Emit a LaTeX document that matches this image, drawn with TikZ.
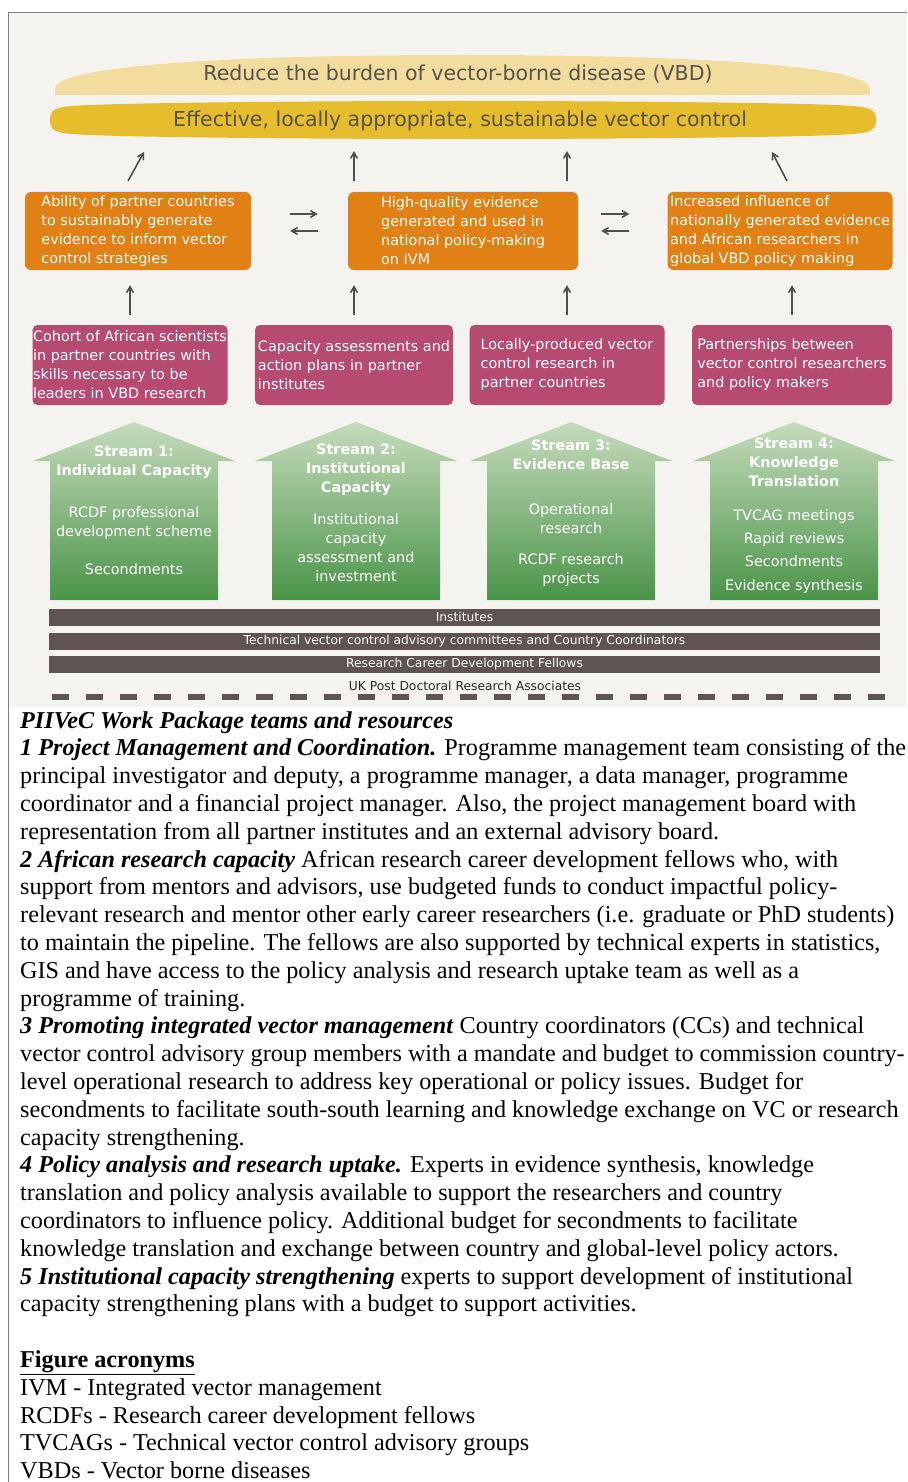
\documentclass[tikz,border=0pt]{standalone}
\usepackage{fontspec}
\setmainfont{Liberation Serif}
\newfontfamily\verd{DejaVu Sans}
\usepackage{tikz}
\usetikzlibrary{arrows,%
                shapes,positioning}

\definecolor{panelc}{RGB}{245,243,240}
\definecolor{goalc}{RGB}{242,221,158}
\definecolor{vcc}{RGB}{230,189,45}
\definecolor{bandtext}{RGB}{88,82,76}
\definecolor{outc}{RGB}{225,128,20}
\definecolor{prodc}{RGB}{182,74,112}
\definecolor{greentop}{RGB}{198,219,189}
\definecolor{greenbot}{RGB}{74,148,72}
\definecolor{layerc}{RGB}{94,84,83}
\definecolor{arrowc}{RGB}{82,78,78}

\begin{document}
\begin{tikzpicture}[x=1pt,y=-1pt,>=angle 60,
  outcome/.style={fill=outc,text=white,rounded corners=6pt,align=left,
    minimum height=78pt,inner sep=0pt,font=\verd\fontsize{14.4}{19}\selectfont},
  product/.style={fill=prodc,text=white,rounded corners=5pt,align=left,
    minimum height=80pt,inner sep=0pt,font=\verd\fontsize{14.4}{19}\selectfont},
  streamtxt/.style={text=white,align=center,inner sep=0pt,
    font=\verd\fontsize{14.4}{19}\selectfont},
  layer/.style={fill=layerc,text=white,minimum width=831pt,minimum height=17pt,
    inner sep=0pt,font=\verd\fontsize{12.3}{13}\selectfont},
  band/.style={text=bandtext,font=\verd\fontsize{20.5}{24}\selectfont},
  flow/.style={->,draw=arrowc,line width=1.6pt},
  noteline/.style={anchor=base west,inner sep=0pt,font=\fontsize{24.2}{27.8}\selectfont}]
\useasboundingbox (0,0) rectangle (907,1482);
\fill[white] (0,0) rectangle (907,1482);
\fill[panelc] (8,12) rectangle (907,707);
\draw[gray,line width=0.8pt] (8,1482) -- (8,12) -- (907,12);

% goal bands
\fill[goalc] (55,95) -- (55,88) .. controls (58,68) and (200,55) .. (462,55)
  .. controls (724,55) and (867,68) .. (870,88) -- (870,95) -- cycle;
\fill[vcc] (50,120) .. controls (50,106) and (56,106) .. (120,104)
  .. controls (300,100) and (624,100) .. (805,104)
  .. controls (869,106) and (876,106) .. (876,120)
  .. controls (876,134) and (869,134) .. (805,136)
  .. controls (624,140) and (300,140) .. (120,136)
  .. controls (56,134) and (50,134) .. (50,120) -- cycle;
\node[band] (goal) at (458,74) {Reduce the burden of vector-borne disease (VBD)};
\node[band] (vc) at (460,121) {Effective, locally appropriate, sustainable vector control};
\coordinate (vcbase) at (462,138);

% outcomes
\node[outcome,minimum width=226pt] (ability) at (138,231)
  {Ability of partner countries\\to sustainably generate\\evidence to inform vector\\control strategies};
\node[outcome,minimum width=230pt] (quality) at (463,231)
  {High-quality evidence\\generated and used in\\national policy-making\\on IVM};
\node[outcome,minimum width=225pt] (influence) at (780,231)
  {Increased influence of\\nationally generated evidence\\and African researchers in\\global VBD policy making};

% products
\node[product,minimum width=195pt] (cohort) at (130,365)
  {Cohort of African scientists\\in partner countries with\\skills necessary to be\\leaders in VBD research};
\node[product,minimum width=198pt] (assess) at (354,365)
  {Capacity assessments and\\action plans in partner\\institutes};
\node[product,minimum width=195pt] (local) at (567,365)
  {Locally-produced vector\\control research in\\partner countries};
\node[product,minimum width=200pt] (partner) at (792,365)
  {Partnerships between\\vector control researchers\\and policy makers};

% arrows
\coordinate (tailA) at (128,181);
\coordinate (tipA) at (144,152);
\coordinate (tailD) at (787,181);
\coordinate (tipD) at (772,152);
\draw[flow] (tailA) -- (tipA);
\draw[flow] (tailD) -- (tipD);
\draw[flow,shorten <=11pt,shorten >=13pt] (assess.north |- quality.north) -- (assess.north |- vcbase);
\draw[flow,shorten <=11pt,shorten >=13pt] (local.north |- quality.north) -- (local.north |- vcbase);
\draw[flow,shorten <=39pt,shorten >=30pt] ([yshift=17pt]ability.east) -- ([yshift=17pt]quality.west);
\draw[flow,shorten <=30pt,shorten >=39pt] (quality.west) -- (ability.east);
\draw[flow,shorten <=23pt,shorten >=38pt] ([yshift=17pt]quality.east) -- ([yshift=17pt]influence.west);
\draw[flow,shorten <=38pt,shorten >=23pt] (influence.west) -- (quality.east);
\draw[flow,shorten <=10pt,shorten >=15pt] (cohort.north) -- (cohort.north |- ability.south);
\draw[flow,shorten <=10pt,shorten >=15pt] (assess.north) -- (assess.north |- quality.south);
\draw[flow,shorten <=10pt,shorten >=15pt] (local.north) -- (local.north |- quality.south);
\draw[flow,shorten <=10pt,shorten >=15pt] (partner.north) -- (partner.north |- influence.south);

% streams
\foreach \cx in {134,356,571,794}
  \shade[top color=greentop,bottom color=greenbot] (\cx-101,461) -- (\cx,422) -- (\cx+101,461)
    -- (\cx+84,461) -- (\cx+84,600) -- (\cx-84,600) -- (\cx-84,461) -- cycle;
\node[streamtxt] (stream1) at (134,510.5)
  {\textbf{Stream 1:}\\\textbf{Individual Capacity}\\[23pt]RCDF professional\\development scheme\\[19pt]Secondments};
\node[streamtxt] (stream2) at (356,513)
  {\textbf{Stream 2:}\\\textbf{Institutional}\\\textbf{Capacity}\\[13pt]Institutional\\capacity\\assessment and\\investment};
\node[streamtxt] (stream3) at (571,513.5)
  {\textbf{Stream 3:}\\\textbf{Evidence Base}\\[26pt]Operational\\research\\[12pt]RCDF research\\projects};
\node[streamtxt] (stream4) at (794,516)
  {\textbf{Stream 4:}\\\textbf{Knowledge}\\\textbf{Translation}\\[15pt]TVCAG meetings\\[4pt]Rapid reviews\\[4pt]Secondments\\[5pt]Evidence synthesis};

% teams
\node[layer] (inst) at (464.5,617) {Institutes};
\node[layer] (tvcac) at (464.5,641) {Technical vector control advisory committees and Country Coordinators};
\node[layer] (rcdf) at (464.5,664.5) {Research Career Development Fellows};
\node[text=black!85,inner sep=0pt,font=\verd\fontsize{12.3}{13}\selectfont] (ukpdra) at (465,686)
  {UK Post Doctoral Research Associates};
\draw[layerc,line width=6pt,dash pattern=on 17pt off 17pt] (52,697) -- (886,697);

% notes
\foreach \i/\ln in {
  {0/\textbf{\textit{PIIVeC Work Package teams and resources}}},
  {1/\textbf{\textit{1 Project Management and Coordination.}} Programme management team consisting of the},
  {2/principal investigator and deputy, a programme manager, a data manager, programme},
  {3/coordinator and a financial project manager. Also, the project management board with},
  {4/representation from all partner institutes and an external advisory board.},
  {5/\textbf{\textit{2 African research capacity}} African research career development fellows who, with},
  {6/support from mentors and advisors, use budgeted funds to conduct impactful policy-},
  {7/relevant research and mentor other early career researchers (i.e. graduate or PhD students)},
  {8/to maintain the pipeline. The fellows are also supported by technical experts in statistics,},
  {9/GIS and have access to the policy analysis and research uptake team as well as a},
  {10/programme of training.},
  {11/\textbf{\textit{3 Promoting integrated vector management}} Country coordinators (CCs) and technical},
  {12/vector control advisory group members with a mandate and budget to commission country-},
  {13/level operational research to address key operational or policy issues. Budget for},
  {14/secondments to facilitate south-south learning and knowledge exchange on VC or research},
  {15/capacity strengthening.},
  {16/\textbf{\textit{4 Policy analysis and research uptake.}} Experts in evidence synthesis, knowledge},
  {17/translation and policy analysis available to support the researchers and country},
  {18/coordinators to influence policy. Additional budget for secondments to facilitate},
  {19/knowledge translation and exchange between country and global-level policy actors.},
  {20/\textbf{\textit{5 Institutional capacity strengthening}} experts to support development of institutional},
  {21/capacity strengthening plans with a budget to support activities.},
  {23/\underline{\textbf{Figure acronyms}}},
  {24/IVM - Integrated vector management},
  {25/RCDFs - Research career development fellows},
  {26/TVCAGs - Technical vector control advisory groups},
  {27/VBDs - Vector borne diseases}}
  \node[noteline] (note\i) at (20,{728+27.8*\i}) {\ln};
\end{tikzpicture}
\end{document}
